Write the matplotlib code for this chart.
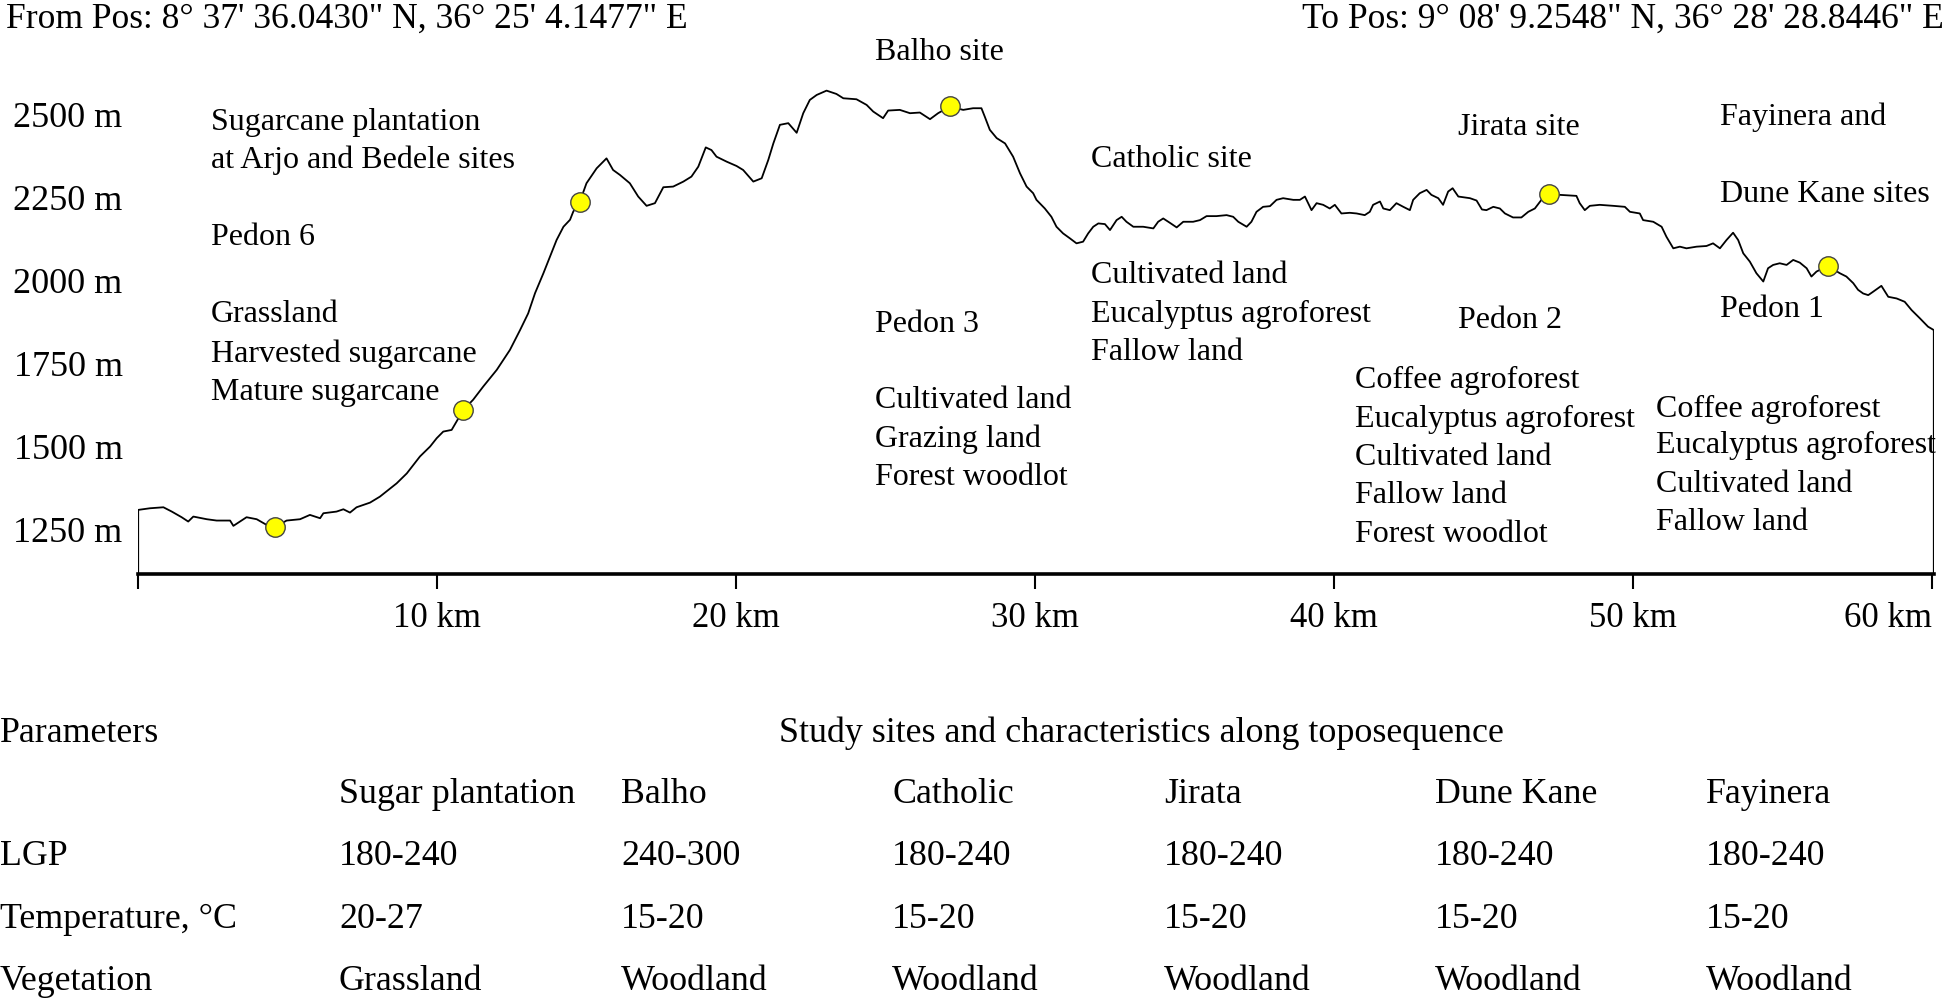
import numpy as np
import matplotlib
matplotlib.use('Agg')
import matplotlib.pyplot as plt

plt.rcParams['font.family'] = ['Liberation Serif', 'DejaVu Serif']

W, H = 1948, 1000

# elevation profile (km along transect, m a.s.l.)
dist_km = [0.00, 0.40, 0.85, 1.13, 1.46, 1.68, 1.85, 2.30, 2.63, 3.08, 3.19, 3.41, 3.63, 3.97,
           4.30, 4.58, 4.97, 5.42, 5.75, 6.09, 6.20, 6.64, 6.87, 7.09, 7.31, 7.76, 8.09, 8.65,
           8.99, 9.43, 9.77, 9.99, 10.21, 10.49, 10.88, 11.21, 11.55, 12.00, 12.44, 12.78, 13.05,
           13.28, 13.56, 13.78, 14.00, 14.23, 14.45, 14.56, 14.78, 15.00, 15.34, 15.67, 15.89,
           16.12, 16.45, 16.73, 17.01, 17.29, 17.57, 17.90, 18.24, 18.51, 18.74, 18.99, 19.18,
           19.35, 19.69, 20.02, 20.24, 20.58, 20.86, 21.08, 21.25, 21.47, 21.75, 22.03, 22.25,
           22.47, 22.70, 23.03, 23.36, 23.59, 24.03, 24.37, 24.59, 24.92, 25.09, 25.48, 25.82,
           26.15, 26.49, 26.76, 27.15, 27.60, 27.93, 28.21, 28.32, 28.49, 28.72, 29.00, 29.27,
           29.50, 29.72, 29.94, 30.05, 30.33, 30.55, 30.72, 30.94, 31.17, 31.39, 31.61, 31.78,
           31.95, 32.12, 32.34, 32.51, 32.73, 32.90, 33.06, 33.29, 33.62, 33.96, 34.12, 34.29,
           34.51, 34.74, 34.96, 35.29, 35.52, 35.74, 36.07, 36.41, 36.63, 36.80, 37.08, 37.24,
           37.41, 37.63, 37.86, 38.08, 38.30, 38.64, 38.86, 39.03, 39.25, 39.42, 39.64, 39.86,
           40.03, 40.25, 40.53, 40.76, 41.03, 41.20, 41.31, 41.54, 41.65, 41.87, 42.09, 42.32,
           42.54, 42.65, 42.87, 43.10, 43.26, 43.49, 43.65, 43.82, 43.97, 44.16, 44.32, 44.55,
           44.77, 44.95, 45.10, 45.33, 45.55, 45.72, 45.99, 46.27, 46.50, 46.72, 46.94, 47.20,
           47.56, 48.11, 48.22, 48.39, 48.56, 48.89, 49.34, 49.73, 49.90, 50.23, 50.34, 50.68,
           50.96, 51.12, 51.35, 51.57, 51.79, 52.13, 52.46, 52.68, 52.91, 53.13, 53.35, 53.52,
           53.69, 53.91, 54.13, 54.36, 54.52, 54.69, 54.91, 55.14, 55.36, 55.58, 55.81, 55.97,
           56.14, 56.51, 56.92, 57.14, 57.37, 57.53, 57.70, 57.87, 58.03, 58.31, 58.54, 58.82,
           59.09, 59.32, 59.60, 59.87, 60.06]
elev_m = [1310, 1315, 1318, 1305, 1288, 1275, 1290, 1282, 1278, 1278, 1262, 1275, 1288, 1282,
          1265, 1258, 1278, 1282, 1295, 1285, 1300, 1305, 1312, 1302, 1318, 1332, 1350, 1390,
          1420, 1471, 1501, 1526, 1546, 1551, 1611, 1642, 1682, 1732, 1792, 1852, 1902,
          1963, 2023, 2073, 2123, 2163, 2184, 2209, 2239, 2294, 2339, 2369, 2334,
          2319, 2294, 2254, 2226, 2234, 2282, 2284, 2299, 2314, 2344, 2402, 2394,
          2374, 2359, 2346, 2334, 2299, 2309, 2364, 2414, 2470, 2475, 2446, 2505,
          2545, 2560, 2573, 2563, 2550, 2547, 2530, 2510, 2490, 2513, 2515, 2505,
          2507, 2487, 2505, 2525, 2515, 2520, 2520, 2495, 2455, 2430, 2414, 2374,
          2324, 2284, 2264, 2244, 2218, 2193, 2163, 2143, 2128, 2113, 2118, 2143,
          2163, 2173, 2171, 2153, 2183, 2193, 2178, 2163, 2163, 2158, 2178, 2188,
          2175, 2161, 2178, 2178, 2183, 2195, 2195, 2198, 2193, 2178, 2163, 2178,
          2208, 2223, 2225, 2244, 2249, 2244, 2244, 2254, 2213, 2234, 2229, 2218,
          2229, 2203, 2205, 2203, 2198, 2208, 2229, 2239, 2218, 2213, 2234, 2223,
          2213, 2244, 2264, 2274, 2259, 2249, 2229, 2269, 2279, 2254, 2252, 2249,
          2242, 2215, 2213, 2223, 2218, 2203, 2191, 2191, 2208, 2218, 2244, 2262,
          2259, 2256, 2234, 2213, 2226, 2229, 2226, 2223, 2208, 2203, 2183, 2178,
          2163, 2133, 2098, 2103, 2098, 2103, 2105, 2113, 2098, 2123, 2145, 2123,
          2083, 2058, 2023, 1998, 2038, 2048, 2053, 2048, 2063, 2055, 2038, 2013,
          2028, 2045, 2023, 2013, 1993, 1973, 1962, 1957, 1967, 1985, 1952, 1947,
          1937, 1912, 1887, 1862, 1852]

# sampling sites (yellow dots)
site_km = [4.58, 10.88, 14.78, 27.15, 47.20, 56.51]
site_elev = [1258, 1611, 2239, 2528, 2262, 2045]

ytick_vals = [1250, 1500, 1750, 2000, 2250, 2500]
xtick_vals = [0, 10, 20, 30, 40, 50, 60]

# table under the profile
table_sites = ['Sugar plantation', 'Balho', 'Catholic', 'Jirata', 'Dune Kane', 'Fayinera']
table_params = ['LGP', 'Temperature, \u00b0C', 'Vegetation']
lgp = ['180-240', '240-300', '180-240', '180-240', '180-240', '180-240']
temperature = ['20-27', '15-20', '15-20', '15-20', '15-20', '15-20']
vegetation = ['Grassland', 'Woodland', 'Woodland', 'Woodland', 'Woodland', 'Woodland']

FS_HEAD = 25.6
FS_NOTE = 23
FS_TAB = 25.8

fig = plt.figure(figsize=(W / 100, H / 100), dpi=100)
ax = fig.add_axes([138 / W, 1 - 574 / H, (1934 - 138) / W, 574 / H])
ax.set_xlim(0, 60.07)
ax.set_ylim(1117, 2846)

ax.plot(dist_km, elev_m, color='black', lw=1.3)
ax.vlines([dist_km[0], dist_km[-1]], 1117, [elev_m[0], elev_m[-1]], color='black', lw=1.6)
ax.plot(site_km, site_elev, 'o', ms=14, mfc='#ffff00', mec='#444444', mew=1.0, zorder=5)

for s in ['top', 'right', 'left']:
    ax.spines[s].set_visible(False)
ax.spines['bottom'].set_linewidth(2.6)

ax.set_xticks(xtick_vals)
ax.set_xticklabels([''] + ['%d km' % v for v in xtick_vals[1:]])
ax.get_xticklabels()[-1].set_ha('right')
ax.tick_params(axis='x', direction='out', length=11, width=1.5, pad=9, labelsize=25)
ax.set_yticks(ytick_vals)
ax.set_yticklabels(['%d m' % v for v in ytick_vals])
ax.tick_params(axis='y', length=0, pad=11, labelsize=26)


def txt(x, y, s, fs, **kw):
    fig.text(x / W, 1 - y / H, s, fontsize=fs, va='baseline', **kw)


txt(6, 28, 'From Pos: 8\u00b0 37\' 36.0430" N, 36\u00b0 25\' 4.1477" E', FS_HEAD)
txt(1944, 28, 'To Pos: 9\u00b0 08\' 9.2548" N, 36\u00b0 28\' 28.8446" E', FS_HEAD, ha='right')

blocks = [
    (211, [(130, 'Sugarcane plantation'), (168, 'at Arjo and Bedele sites'), (245, 'Pedon 6'),
           (322, 'Grassland'), (362, 'Harvested sugarcane'), (400, 'Mature sugarcane')]),
    (875, [(60, 'Balho site'), (332, 'Pedon 3'), (408, 'Cultivated land'),
           (447, 'Grazing land'), (485, 'Forest woodlot')]),
    (1091, [(167, 'Catholic site'), (283, 'Cultivated land'), (322, 'Eucalyptus agroforest'),
            (360, 'Fallow land')]),
    (1458, [(135, 'Jirata site'), (328, 'Pedon 2')]),
    (1355, [(388, 'Coffee agroforest'), (427, 'Eucalyptus agroforest'), (465, 'Cultivated land'),
            (503, 'Fallow land'), (542, 'Forest woodlot')]),
    (1720, [(125, 'Fayinera and'), (202, 'Dune Kane sites'), (317, 'Pedon 1')]),
    (1656, [(417, 'Coffee agroforest'), (453, 'Eucalyptus agroforest'), (492, 'Cultivated land'),
            (530, 'Fallow land')]),
]
for x, lines in blocks:
    for y, s in lines:
        txt(x, y, s, FS_NOTE)

# table
txt(0, 742, 'Parameters', FS_TAB)
txt(779, 742, 'Study sites and characteristics along toposequence', FS_TAB)
col_x = [339, 621, 892, 1164, 1435, 1706]
for cx, s in zip(col_x, table_sites):
    txt(cx, 803, s, FS_TAB)
for ry, p, vals in zip([865, 928, 990], table_params, [lgp, temperature, vegetation]):
    txt(0, ry, p, FS_TAB)
    for cx, v in zip(col_x, vals):
        txt(cx, ry, v, FS_TAB)

fig.savefig('out.png', dpi=100)
